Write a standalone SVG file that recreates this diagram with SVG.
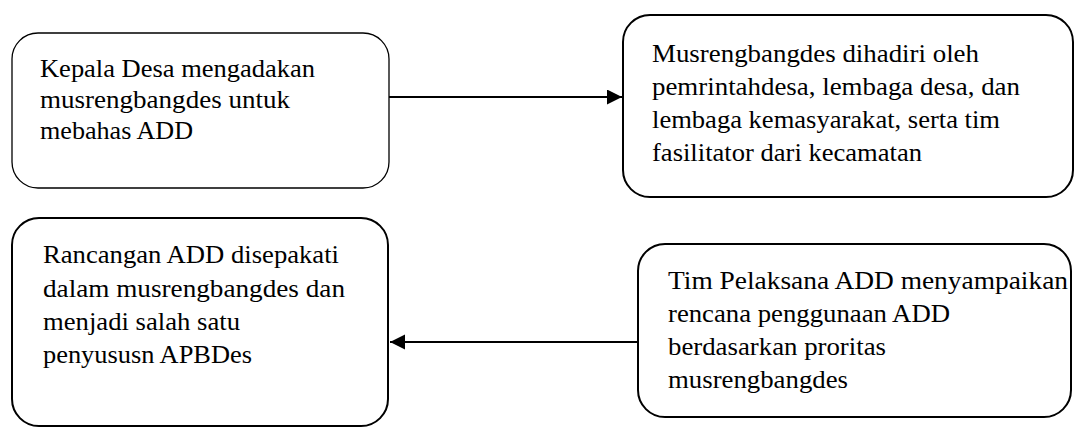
<svg xmlns="http://www.w3.org/2000/svg" width="1074" height="427" viewBox="0 0 1074 427">
<style>
.box{fill:#fff;stroke:#000;stroke-width:2}
.thin{stroke-width:1.3}
.t{font-family:"Liberation Serif","DejaVu Serif",serif;font-size:25px;fill:#000}
.con{stroke:#000;stroke-width:2;fill:none}
</style>
<defs>
<marker id="ah" markerUnits="userSpaceOnUse" markerWidth="16" markerHeight="16" refX="15" refY="7.5" orient="auto">
<path d="M0,0 L15,7.5 L0,15 z" fill="#000"/>
</marker>
</defs>
<rect width="1074" height="427" fill="#fff"/>
<g id="connectors">
<line class="con" x1="389" y1="97" x2="622" y2="97" marker-end="url(#ah)"/>
<line class="con" x1="638" y1="342" x2="390" y2="342" marker-end="url(#ah)"/>
</g>
<g id="n1">
<rect class="box thin" x="12" y="33" width="377" height="155" rx="26"/>
<text class="t" x="40" y="77" textLength="275" lengthAdjust="spacingAndGlyphs">Kepala Desa mengadakan</text>
<text class="t" x="40" y="108" textLength="250" lengthAdjust="spacingAndGlyphs">musrengbangdes untuk</text>
<text class="t" x="40" y="139" textLength="153" lengthAdjust="spacingAndGlyphs">mebahas ADD</text>
</g>
<g id="n2">
<rect class="box" x="623" y="15" width="450" height="182" rx="27"/>
<text class="t" x="652" y="62" textLength="327" lengthAdjust="spacingAndGlyphs">Musrengbangdes dihadiri oleh</text>
<text class="t" x="652" y="95" textLength="368" lengthAdjust="spacingAndGlyphs">pemrintahdesa, lembaga desa, dan</text>
<text class="t" x="652" y="128" textLength="348" lengthAdjust="spacingAndGlyphs">lembaga kemasyarakat, serta tim</text>
<text class="t" x="652" y="161" textLength="270" lengthAdjust="spacingAndGlyphs">fasilitator dari kecamatan</text>
</g>
<g id="n3">
<rect class="box" x="12" y="218" width="376" height="208" rx="27"/>
<text class="t" x="43" y="263" textLength="296" lengthAdjust="spacingAndGlyphs">Rancangan ADD disepakati</text>
<text class="t" x="43" y="297" textLength="302" lengthAdjust="spacingAndGlyphs">dalam musrengbangdes dan</text>
<text class="t" x="43" y="330" textLength="197" lengthAdjust="spacingAndGlyphs">menjadi salah satu</text>
<text class="t" x="43" y="363" textLength="209" lengthAdjust="spacingAndGlyphs">penyususn APBDes</text>
</g>
<g id="n4">
<rect class="box" x="638" y="244" width="433" height="173" rx="27"/>
<text class="t" x="668" y="289" textLength="400" lengthAdjust="spacingAndGlyphs">Tim Pelaksana ADD menyampaikan</text>
<text class="t" x="668" y="322" textLength="282" lengthAdjust="spacingAndGlyphs">rencana penggunaan ADD</text>
<text class="t" x="668" y="355" textLength="218" lengthAdjust="spacingAndGlyphs">berdasarkan proritas</text>
<text class="t" x="668" y="388" textLength="180" lengthAdjust="spacingAndGlyphs">musrengbangdes</text>
</g>
</svg>
